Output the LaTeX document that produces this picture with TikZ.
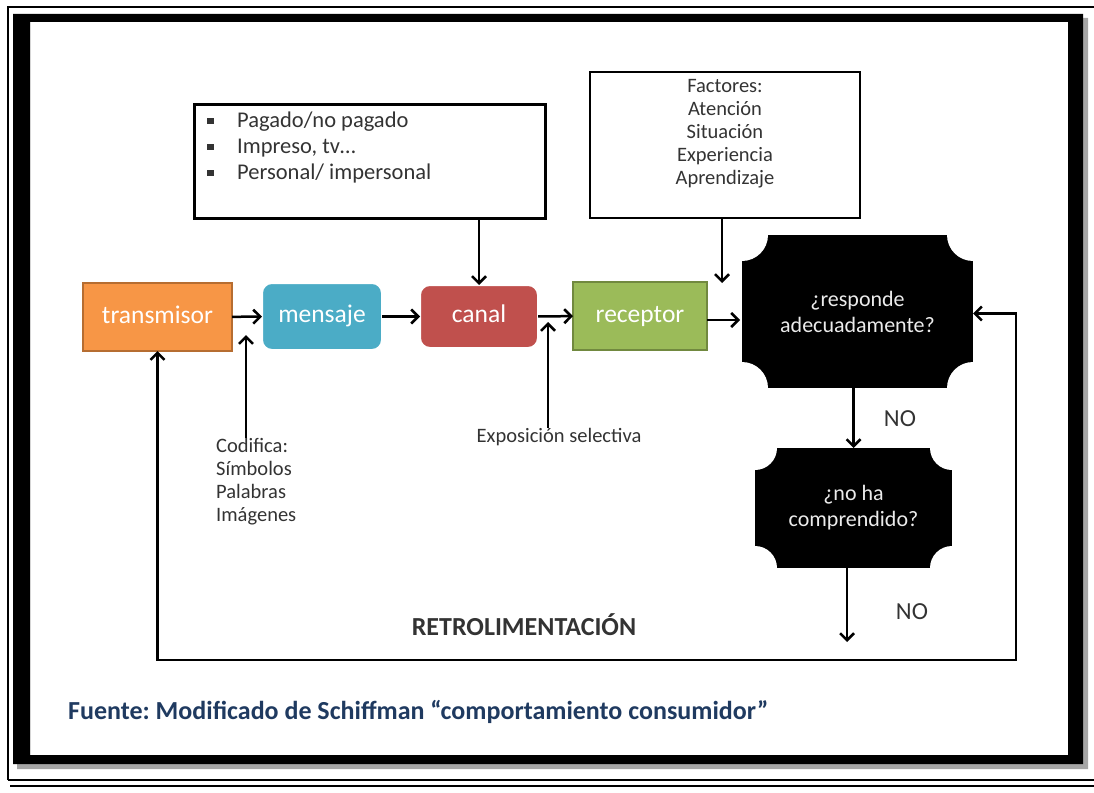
\documentclass[tikz,border=0pt]{standalone}
\usepackage{fontspec}
\setmainfont{Carlito}
\usetikzlibrary{arrows.meta,positioning,calc}

\definecolor{naranja}{HTML}{F79646}
\definecolor{naranjaborde}{HTML}{B66D31}
\definecolor{azul}{HTML}{4BACC6}
\definecolor{rojo}{HTML}{C0504D}
\definecolor{verde}{HTML}{9BBB59}
\definecolor{verdeborde}{HTML}{71893F}
\definecolor{marino}{HTML}{1F3A60}

\newcommand{\bala}{\makebox[30pt][l]{\rule[0.15em]{0.3em}{0.3em}}}
\frenchspacing

\begin{document}
\begin{tikzpicture}[x=1pt, y=-1pt,
  bloque/.style={rectangle, minimum height=68pt, text=white, align=center, outer sep=0pt,
    text height=17pt, text depth=5pt, font=\fontsize{25.5}{30}\selectfont},
  caja/.style={draw, line width=2.2pt, rectangle, outer sep=0pt},
  placa/.style={rectangle, fill=black, text=white!92!black, align=center, inner sep=0pt, outer sep=0pt,
    font=\fontsize{22}{26}\selectfont,
    path picture={\foreach \esq in {north west,north east,south west,south east}
      \fill[white] (path picture bounding box.\esq) circle (#1);}},
  nota/.style={inner sep=0pt, font=\fontsize{20.5}{23}\selectfont, text=black!80},
  flujo/.style={-{Straight Barb[length=7pt,width=14pt]}, line width=2.5pt},
  flujodoble/.style={{Straight Barb[length=7pt,width=14pt]}-{Straight Barb[length=7pt,width=14pt]}, line width=2.5pt}]
\useasboundingbox (0,0) rectangle (1094,792);

% marco
\fill[black!35, even odd rule] (17,18) rectangle (1088,769) (30,22) rectangle (1068,755);
\fill[black, even odd rule] (13,14) rectangle (1083,764) (30,22) rectangle (1068,755);
\draw[line width=1.4pt] (8,780) -- (8,7) -- (1094,7);
\draw[line width=1.6pt] (8,780) -- (1094,780);
\draw[line width=1.4pt] (10,786) -- (1094,786);

% fila principal
\node[bloque, fill=naranja, draw=naranjaborde, line width=1.4pt, minimum width=149pt] (tr) at (157.5,317) {transmisor};
\node[bloque, fill=azul, draw=white, line width=2pt, rounded corners=10pt, minimum width=120pt, minimum height=67pt] (me) at (322,316.5) {mensaje};
\node[bloque, fill=rojo, draw=white, line width=2pt, rounded corners=10pt, minimum width=118pt, minimum height=63pt] (ca) at (479,316.5) {canal};
\node[bloque, fill=verde, draw=verdeborde, line width=1.4pt, minimum width=134pt] (re) at (640,316) {receptor};
\node[placa=26pt, minimum width=231pt, minimum height=153pt] (rs) at (857.5,311.5) {¿responde\\adecuadamente?};
\node[placa=22pt, minimum width=197pt, minimum height=120pt] (nh) at (853.5,508) {¿no ha\\comprendido?};

% cajas superiores
\node[caja, minimum width=351pt, minimum height=114pt] (medios) at (370,161.5) {};
\node[nota, anchor=north west, align=left, font=\fontsize{22.5}{26}\selectfont] (mediostxt) at (207,112)
  {\bala Pagado/no pagado\\\bala Impreso, tv…\\\bala Personal/ impersonal};
\node[caja, minimum width=270pt, minimum height=146pt] (factores) at (725,145) {};
\node[nota, anchor=north, align=center] (factorestxt) at (725,79)
  {Factores:\\Atención\\Situación\\Experiencia\\Aprendizaje};

% notas inferiores
\node[nota, anchor=north west, align=left] (cod) at (216,438) {Codifica:\\Símbolos\\Palabras\\Imágenes};
\node[nota] (expo) at (559,437) {Exposición selectiva};
\node[nota, font=\fontsize{26}{30}\selectfont\bfseries] (retro) at (524,625) {RETROLIMENTACIÓN};
\node[nota, font=\fontsize{24.5}{28}\selectfont] (no1) at (900,419) {NO};
\node[nota, font=\fontsize{24.5}{28}\selectfont] (no2) at (912,612) {NO};
\node[nota, anchor=west, text=marino, font=\fontsize{26}{30}\selectfont\bfseries] (fuente) at (68,712)
  {Fuente: Modificado de Schiffman “comportamiento consumidor”};

\coordinate (codin) at (246,335);
\coordinate (expin) at (548,322);
\coordinate (facin) at (722,283);
\coordinate (noout) at (847,642);
\coordinate (fb) at (1016,660);

% conectores
\draw[flujo] (tr) -- (me);
\draw[flujo] (me) -- (ca);
\draw[flujo] (ca) -- (re);
\draw[flujo] (re.east) ++(0,4) -- ++(33,0);
\draw[flujo] (medios.south -| ca.north) -- (ca.north);
\draw[flujo] (factores.south -| facin) -- (facin);
\draw[flujo] (cod.north -| codin) -- (codin);
\draw[flujo] (expo.north -| expin) -- (expin);
\draw[flujo] (rs.south -| nh.north) -- (nh.north);
\draw[flujo] (nh.south -| noout) -- (noout);
\draw[flujodoble] (tr.south) |- (fb) |- ($(rs.east)+(0,2)$);
\end{tikzpicture}
\end{document}
